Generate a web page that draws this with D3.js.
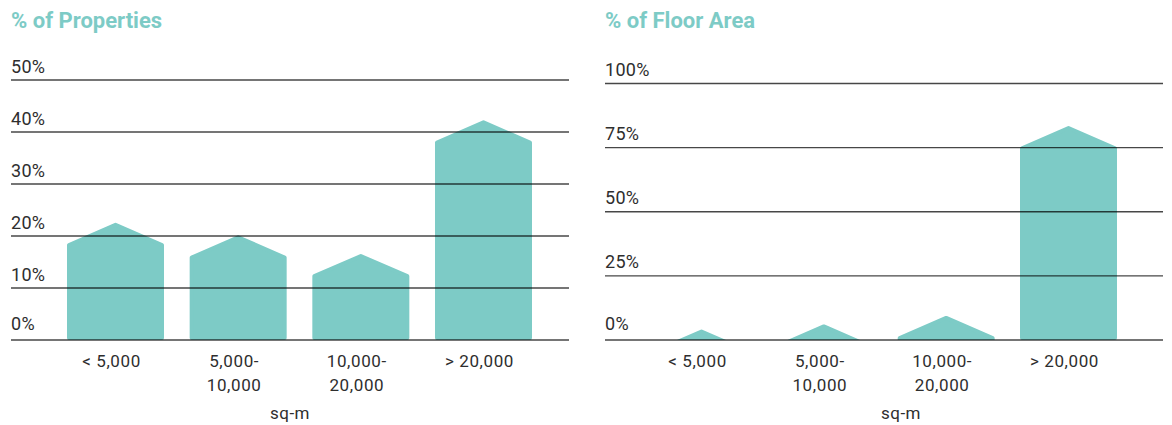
<!DOCTYPE html>
<html>
<head>
<meta charset="utf-8">
<script src="https://cdn.jsdelivr.net/npm/d3@7"></script>
<style>
  html, body { margin: 0; padding: 0; background: #fff; }
  svg { display: block; }
  .title { font-family: Roboto, "Liberation Sans", sans-serif; font-weight: 700; font-size: 22px; fill: #7dcbc6; }
  .tick-label { font-family: Roboto, "Liberation Sans", sans-serif; font-weight: 400; font-size: 18px; fill: #2e2e2e; letter-spacing: 0.3px; }
  .cat-label { font-family: Roboto, "Liberation Sans", sans-serif; font-weight: 400; font-size: 17px; fill: #2e2e2e; letter-spacing: 0.6px; }
  .axis-title { font-family: Roboto, "Liberation Sans", sans-serif; font-weight: 400; font-size: 17px; fill: #2e2e2e; letter-spacing: 0.5px; }
</style>
</head>
<body>
<svg id="chart" width="1172" height="425"></svg>
<script>
// Size bands (sq-m), one label line per array entry
const categories = ["lt5k", "5k-10k", "10k-20k", "gt20k"];
const categoryLines = [["< 5,000"], ["5,000-", "10,000"], ["10,000-", "20,000"], ["> 20,000"]];

// Share of properties in each size band (%)
const propertiesShare = [22.6, 20.2, 16.6, 42.3];
// Share of total floor area in each size band (%)
const floorAreaShare = [4.2, 6.2, 9.5, 83.5];

const propertyTicks = [0, 10, 20, 30, 40, 50];
const floorAreaTicks = [0, 25, 50, 75, 100];

const barColor = "#7dcbc6";
const barWidth = 97;
const roofHeight = 21.5;
const corner = 2;
const baseline = 340;

const svg = d3.select("#chart");

function drawPanel(cfg) {
  const g = svg.append("g");

  const y = d3.scaleLinear().domain(cfg.domain).range([baseline, cfg.top]);
  const x = d3.scalePoint().domain(categories).range(cfg.barRange);

  // Title
  g.append("text").attr("class", "title")
    .attr("x", cfg.left).attr("y", 28)
    .text(cfg.title);

  // Bars: a house-shaped column whose ridge sits at the value
  const clipId = "clip-" + cfg.id;
  g.append("clipPath").attr("id", clipId)
    .append("rect")
    .attr("x", cfg.left).attr("y", 0)
    .attr("width", cfg.right - cfg.left).attr("height", baseline);

  const housePath = (d, i) => {
    const cx = x(categories[i]);
    const peak = y(d);
    const shoulder = peak + roofHeight;
    const bottom = Math.max(baseline, shoulder + 4);
    const l = cx - barWidth / 2 + corner;
    const r = cx + barWidth / 2 - corner;
    return d3.line()([
      [l, bottom - corner],
      [l, shoulder + 1],
      [cx, peak + corner + 0.3],
      [r, shoulder + 1],
      [r, bottom - corner]
    ]) + "Z";
  };

  g.append("g").attr("clip-path", `url(#${clipId})`)
    .selectAll("path")
    .data(cfg.values)
    .join("path")
    .attr("d", housePath)
    .attr("fill", barColor)
    .attr("stroke", barColor)
    .attr("stroke-width", corner * 2)
    .attr("stroke-linejoin", "round");

  // Gridlines drawn over the bars
  g.append("g")
    .selectAll("line")
    .data(cfg.ticks)
    .join("line")
    .attr("x1", cfg.left).attr("x2", cfg.right)
    .attr("y1", d => y(d)).attr("y2", d => y(d))
    .attr("stroke", "#000")
    .attr("stroke-opacity", 0.72)
    .attr("stroke-width", 1.4);

  // Tick labels sit just above their gridline
  g.append("g")
    .selectAll("text")
    .data(cfg.ticks)
    .join("text")
    .attr("class", "tick-label")
    .attr("x", cfg.left)
    .attr("y", d => y(d) - (d === 0 ? 10.5 : 7.5))
    .text(d => d + "%");

  // Category labels
  const cat = g.append("g")
    .selectAll("text")
    .data(categoryLines)
    .join("text")
    .attr("class", "cat-label")
    .attr("text-anchor", "middle")
    .attr("x", (d, i) => x(categories[i]) - 4)
    .attr("y", 367);
  cat.selectAll("tspan")
    .data(d => d)
    .join("tspan")
    .attr("x", function () { return this.parentNode.getAttribute("x"); })
    .attr("dy", (d, i) => i === 0 ? 0 : 24)
    .text(d => d);

  // Unit title
  g.append("text").attr("class", "axis-title")
    .attr("text-anchor", "middle")
    .attr("x", cfg.unitX).attr("y", 419)
    .text("sq-m");
}

drawPanel({
  id: "properties",
  title: "% of Properties",
  values: propertiesShare,
  ticks: propertyTicks,
  domain: [0, 50],
  top: 80,
  left: 11,
  right: 569,
  barRange: [115.5, 483.5],
  unitX: 290
});

drawPanel({
  id: "floor",
  title: "% of Floor Area",
  values: floorAreaShare,
  ticks: floorAreaTicks,
  domain: [0, 100],
  top: 83.5,
  left: 605,
  right: 1163,
  barRange: [701.5, 1068.5],
  unitX: 901
});
</script>
</body>
</html>
